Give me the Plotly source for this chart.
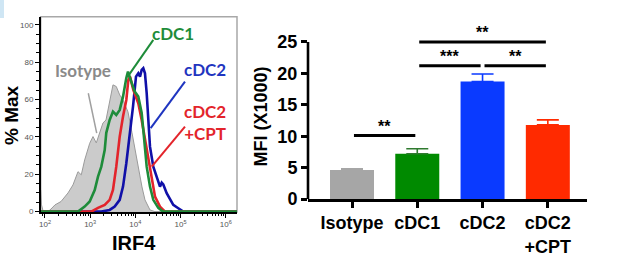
import numpy as np
import plotly.graph_objects as go

# ---------------- Left panel: IRF4 histograms (x in log10 units, y in % Max)
iso_x = [1.905, 1.923, 1.956, 2.066, 2.133, 2.221, 2.354, 2.509, 2.619, 2.730, 2.803, 2.878, 2.989,
         3.062, 3.135, 3.210, 3.283, 3.350, 3.431, 3.504, 3.577, 3.653, 3.726, 3.836, 3.925,
         3.991, 4.058, 4.146, 4.212, 4.323, 4.434, 6.248]
iso_y = [11.6, 3.6, 0.4, 0.0, 1.4, 3.6, 5.4, 10.0, 14.3, 21.4, 19.7, 27.7, 36.6,
         40.2, 36.8, 42.2, 47.5, 49.1, 58.2, 67.9, 67.0, 62.5, 59.8, 53.4, 42.2,
         33.0, 23.9, 13.2, 6.3, 0.9, 0.0, 0.0]

cdc1_x = [1.905, 2.730, 2.878, 2.989, 3.100, 3.173, 3.246, 3.321, 3.356, 3.431, 3.504, 3.577, 3.653,
          3.726, 3.799, 3.836, 3.909, 3.985, 4.064, 4.139, 4.175, 4.212, 4.250, 4.323, 4.396,
          4.507, 4.611, 6.248]
cdc1_y = [0.0, 0.0, 2.7, 5.4, 11.6, 18.7, 24.1, 33.0, 42.2, 49.1, 53.6, 51.8, 54.5,
          61.6, 71.5, 75.0, 69.6, 64.3, 61.6, 52.9, 43.8, 34.8, 24.1, 13.4, 6.3,
          2.0, 0.0, 0.0]

cpt_x = [1.905, 3.024, 3.173, 3.321, 3.431, 3.504, 3.577, 3.653, 3.726, 3.799, 3.843, 3.881, 3.954,
         4.029, 4.064, 4.139, 4.212, 4.285, 4.361, 4.434, 4.544, 4.655, 6.248]
cpt_y = [0.0, 0.0, 2.0, 3.6, 6.3, 11.6, 24.1, 40.2, 50.9, 59.8, 70.5, 72.3, 65.2,
         59.8, 58.0, 49.1, 38.4, 27.7, 16.9, 8.0, 2.7, 0.0, 0.0]

cdc2_x = [1.905, 3.246, 3.431, 3.542, 3.653, 3.726, 3.799, 3.874, 3.947, 4.013, 4.064, 4.102, 4.139,
          4.175, 4.212, 4.250, 4.285, 4.323, 4.396, 4.471, 4.544, 4.582, 4.617, 4.692, 4.765,
          4.838, 4.949, 5.060, 6.248]
cdc2_y = [0.0, 0.0, 0.9, 2.7, 6.3, 13.4, 25.9, 40.2, 56.2, 72.3, 74.1, 72.3, 75.9,
          76.8, 74.1, 63.4, 49.1, 34.8, 24.1, 18.7, 13.4, 15.5, 14.5, 9.9, 6.3,
          3.6, 1.8, 0.0, 0.0]

decades = [2, 3, 4, 5, 6]
decade_labels = ["10<sup>2</sup>", "10<sup>3</sup>", "10<sup>4</sup>", "10<sup>5</sup>", "10<sup>6</sup>"]

# ---------------- Right panel: MFI bar chart
groups = ["Isotype", "cDC1", "cDC2", "cDC2<br>+CPT"]
mfi = [4.6, 7.2, 18.7, 11.8]
mfi_err = [0.2, 0.8, 1.2, 0.8]
bar_colors = ["#a6a6a6", "#008a00", "#0a3aff", "#ff2a00"]
err_colors = ["#a6a6a6", "#2f7a2f", "#0a3aff", "#ff2a00"]

sig_pairs = [(0, 1), (1, 2), (2, 3), (1, 3)]
sig_labels = ["**", "***", "**", "**"]
sig_heights = [10.1, 21.2, 21.2, 25.0]

fig = go.Figure()

LX, LY = "x", "y"
fig.add_trace(go.Scatter(x=iso_x, y=iso_y, mode="lines", fill="tozeroy",
                         fillcolor="#cbcbcb", line=dict(color="#9a9a9a", width=1),
                         xaxis=LX, yaxis=LY, showlegend=False, hoverinfo="skip"))
for xs, ys, col in [(cdc2_x, cdc2_y, "#1010a8"), (cpt_x, cpt_y, "#e3242b"), (cdc1_x, cdc1_y, "#1e8c3a")]:
    fig.add_trace(go.Scatter(x=xs, y=ys, mode="lines", line=dict(color=col, width=2.6),
                             xaxis=LX, yaxis=LY, showlegend=False, hoverinfo="skip"))

for i in range(len(groups)):
    fig.add_trace(go.Bar(x=[i], y=[mfi[i]], width=0.674, marker=dict(color=bar_colors[i], line=dict(width=0)),
                         error_y=dict(type="data", symmetric=False, array=[mfi_err[i]], arrayminus=[0],
                                      color=err_colors[i], thickness=1.6, width=11),
                         xaxis="x2", yaxis="y2", showlegend=False))

shapes = []
# left frame (gray top/right)
shapes.append(dict(type="rect", xref="x domain", yref="y domain", x0=0, x1=1, y0=0, y1=1,
                   line=dict(color="#a8a8a8", width=1.5), layer="below"))
# pointer lines (data coords of left panel)
pointers = [((4.396, 92.0), (3.830, 72.3), "#1e8c3a", 2.0),
            ((2.958, 63.4), (3.144, 42.0), "#a0a0a0", 1.5),
            ((5.097, 69.6), (4.338, 44.7), "#1f35c0", 2.0),
            ((5.097, 45.5), (4.361, 24.1), "#e3242b", 2.0)]
for (x0, y0), (x1, y1), c, w in pointers:
    shapes.append(dict(type="line", xref="x", yref="y", x0=x0, y0=y0, x1=x1, y1=y1,
                       line=dict(color=c, width=w)))
# right y-axis line from 0 to top tick
shapes.append(dict(type="line", xref="x2 domain", yref="y2", x0=0, x1=0, y0=0, y1=25,
                   line=dict(color="black", width=2.6)))
# significance bars
annotations = []
for (i, j), lab, h in zip(sig_pairs, sig_labels, sig_heights):
    shapes.append(dict(type="line", xref="x2", yref="y2", x0=i + 0.03, x1=j - 0.03, y0=h, y1=h,
                       line=dict(color="black", width=3)))
    annotations.append(dict(x=(i + j) / 2, y=h, xref="x2", yref="y2", text="<b>%s</b>" % lab,
                            showarrow=False, xanchor="center", yanchor="bottom", yshift=-1,
                            font=dict(family="Liberation Sans", size=16, color="black")))

# left-panel labels
lab_font = "Lato"
C = dict(xanchor="center", yanchor="middle", showarrow=False)
annotations += [
    dict(x=4.832, y=95.2, xref="x", yref="y", text="<b>cDC1</b>", **C,
         font=dict(family=lab_font, size=17, color="#1e8c3a")),
    dict(x=2.841, y=75.4, xref="x", yref="y", text="<b>Isotype</b>", **C,
         font=dict(family=lab_font, size=17, color="#8a8a8a")),
    dict(x=5.540, y=75.9, xref="x", yref="y", text="<b>cDC2</b>", **C,
         font=dict(family=lab_font, size=17, color="#1f35c0")),
    dict(x=5.540, y=48.0, xref="x", yref="y", text="<b>cDC2<br>+CPT</b>", **C,
         font=dict(family=lab_font, size=17, color="#e3242b")),
    dict(x=12 / 617, y=1 - 115 / 261, xref="paper", yref="paper", text="<b>% Max</b>", textangle=-90, **C,
         font=dict(family="Liberation Sans", size=19, color="black")),
    dict(x=133.5 / 617, y=1 - 243 / 261, xref="paper", yref="paper", text="<b>IRF4</b>", **C,
         font=dict(family="Liberation Sans", size=20, color="black")),
    dict(x=260 / 617, y=1 - 116.5 / 261, xref="paper", yref="paper", text="<b>MFI (X1000)</b>", textangle=-90,
         **C, font=dict(family="Liberation Sans", size=18, color="black")),
]
# light blue corner badge
shapes.append(dict(type="rect", xref="paper", yref="paper", x0=0, x1=4 / 617, y0=1 - 18 / 261, y1=1,
                   line=dict(width=0), fillcolor="#cfe6f4"))

minor_x = [n + np.log10(k) for n in range(1, 7) for k in range(2, 10) if 1.905 < n + np.log10(k) < 6.248]

fig.update_layout(
    width=617, height=261, margin=dict(l=0, r=0, t=0, b=0, autoexpand=False),
    paper_bgcolor="white", plot_bgcolor="white", barmode="overlay",
    shapes=shapes, annotations=annotations,
    xaxis=dict(domain=[40.7 / 617, 237 / 617], range=[1.905, 6.248], tickmode="array",
               tickvals=decades, ticktext=decade_labels, ticks="outside", ticklen=4, tickwidth=1,
               tickcolor="black", showline=True, linecolor="black", linewidth=1.5, showgrid=False,
               zeroline=False, tickfont=dict(family="Liberation Sans", size=8, color="#555"),
               minor=dict(tickvals=minor_x, ticks="outside", ticklen=2.5, tickcolor="black", showgrid=False),
               anchor="y", automargin=False),
    yaxis=dict(domain=[1 - 212 / 261, 1 - 16.7 / 261], range=[-0.2, 104.4], tickmode="array",
               tickvals=[0, 20, 40, 60, 80, 100], ticks="outside", ticklen=4, tickwidth=1,
               tickcolor="black", showline=True, linecolor="black", linewidth=1.5, showgrid=False,
               zeroline=False, tickfont=dict(family="Liberation Sans", size=8, color="#555"),
               minor=dict(dtick=5, tick0=0, ticks="outside", ticklen=2.5, tickcolor="black", showgrid=False),
               anchor="x", automargin=False),
    xaxis2=dict(domain=[308 / 617, 587 / 617], range=[-0.674, 3.6], tickmode="array",
                tickvals=list(range(len(groups))), ticktext=["<b>%s</b>" % g for g in groups],
                ticks="outside", ticklen=6, tickwidth=2.6, tickcolor="black", showline=True,
                linecolor="black", linewidth=2.6, showgrid=False, zeroline=False,
                tickfont=dict(family="Liberation Sans", size=18, color="black"), anchor="y2",
                automargin=False),
    yaxis2=dict(domain=[1 - 199 / 261, 1 - 20 / 261], range=[0, 28.5], tickmode="array",
                tickvals=[0, 5, 10, 15, 20, 25], ticktext=["<b>%d</b>" % v for v in [0, 5, 10, 15, 20, 25]],
                ticks="outside", ticklen=6, tickwidth=2.6, tickcolor="black", showline=False,
                showgrid=False, zeroline=False,
                tickfont=dict(family="Liberation Sans", size=18, color="black"), anchor="x2",
                automargin=False),
)

fig.write_html("out.html", config={"displayModeBar": False},
               post_script="document.body.style.margin='0';document.body.style.padding='0';"
                           "document.body.style.overflow='hidden';")
